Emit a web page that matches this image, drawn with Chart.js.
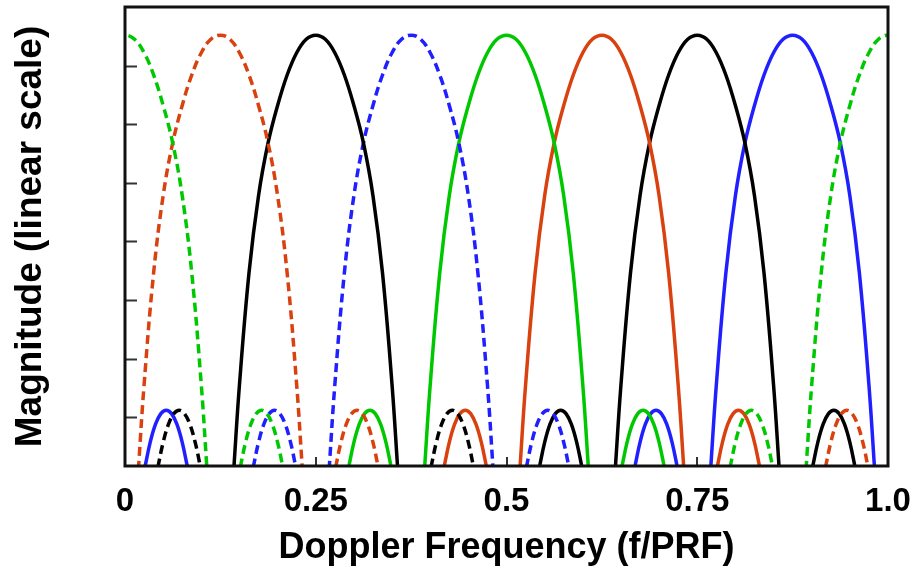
<!DOCTYPE html>
<html>
<head>
<meta charset="utf-8">
<script src="https://cdn.jsdelivr.net/npm/chart.js"></script>
<style>
  html, body { margin: 0; padding: 0; background: #fff; }
  #wrap { width: 912px; height: 569px; }
</style>
</head>
<body>
<div id="wrap"><canvas id="chart"></canvas></div>
<script>
// 8-filter Doppler bank over one PRF interval
const filterCentres = [0, 0.125, 0.25, 0.375, 0.5, 0.625, 0.75, 0.875];
const filterColours = ['#00c800', '#d9410f', '#000000', '#1f1fff', '#00c800', '#d9410f', '#000000', '#1f1fff'];
const mainDashed = [true, true, false, true, false, false, false, false];
const sideDashed = [true, true, true, true, false, false, false, false];

// main lobe: offset from the filter centre (f/PRF) and magnitude
const lobeOffsets = [-0.1075, -0.1, -0.0875, -0.075, -0.0625, -0.05, -0.0375, -0.025, -0.0125, 0,
                     0.0125, 0.025, 0.0375, 0.05, 0.0625, 0.075, 0.0875, 0.1, 0.1075];
const lobeMagnitudes = [0.1, 1.55, 3.46, 4.78, 5.68, 6.32, 6.84, 7.22, 7.45, 7.52,
                        7.45, 7.22, 6.84, 6.32, 5.68, 4.78, 3.46, 1.55, 0.1];

// first sidelobes sit this far either side of each filter centre
const sidelobeShift = 0.179;
const sideOffsets = [-0.028, -0.021, -0.014, -0.007, 0, 0.007, 0.014, 0.021, 0.028];
const sideMagnitudes = [0.14, 0.57, 0.88, 1.06, 1.12, 1.06, 0.88, 0.57, 0.14];

const xTickValues = [0, 0.25, 0.5, 0.75, 1];
const xTickLabels = ['0', '0.25', '0.5', '0.75', '1.0'];
const yTickValues = [1, 2, 3, 4, 5, 6, 7];

const dash = [9, 5];

const datasets = [];
filterCentres.forEach((c, i) => {
  const base = {
    borderColor: filterColours[i],
    borderWidth: 3.5,
    pointRadius: 0,
    fill: false,
    tension: 0.4
  };
  // the filter at 0 wraps round to 1.0
  const copies = c === 0 ? [0, 1] : [c];
  copies.forEach(cc => {
    datasets.push(Object.assign({}, base, {
      borderDash: mainDashed[i] ? dash : [],
      data: lobeOffsets.map((o, k) => ({ x: cc + o, y: lobeMagnitudes[k] }))
    }));
  });
  [-sidelobeShift, sidelobeShift].forEach(s => {
    let sc = c + s;
    sc = sc - Math.floor(sc);
    datasets.push(Object.assign({}, base, {
      borderDash: sideDashed[i] ? dash : [],
      data: sideOffsets.map((o, k) => ({ x: sc + o, y: sideMagnitudes[k] }))
    }));
  });
});

// box around the plot plus inward tick marks
const frame = {
  id: 'frame',
  afterDatasetsDraw(chart) {
    const { ctx, chartArea: a, scales: { x, y } } = chart;
    ctx.save();
    ctx.strokeStyle = '#333';
    ctx.lineWidth = 2;
    ctx.beginPath();
    y.ticks.forEach(t => {
      const py = Math.round(y.getPixelForValue(t.value)) + 0.5;
      ctx.moveTo(a.left, py);
      ctx.lineTo(a.left + 12, py);
    });
    x.ticks.forEach(t => {
      const px = Math.round(x.getPixelForValue(t.value));
      ctx.moveTo(px, a.bottom);
      ctx.lineTo(px, a.bottom - 9);
    });
    ctx.stroke();
    ctx.strokeStyle = '#111';
    ctx.lineWidth = 3;
    ctx.strokeRect(a.left, a.top, a.width, a.height);
    ctx.restore();
  }
};

new Chart(document.getElementById('chart'), {
  type: 'line',
  data: { datasets },
  plugins: [frame],
  options: {
    responsive: true,
    maintainAspectRatio: false,
    animation: false,
    devicePixelRatio: 1,
    layout: { padding: { top: 7, right: 0, left: 0, bottom: 0 } },
    plugins: { legend: { display: false }, tooltip: { enabled: false } },
    scales: {
      x: {
        type: 'linear',
        min: 0,
        max: 1,
        grid: { display: false, drawTicks: false },
        border: { display: false },
        afterBuildTicks: s => { s.ticks = xTickValues.map(v => ({ value: v })); },
        afterFit: s => {
          s.height = 103;
          s.paddingLeft = 0;
          s.paddingRight = 24;
        },
        ticks: {
          padding: 19,
          color: '#000',
          font: { family: 'Liberation Sans', size: 33, weight: 'bold', lineHeight: 1 },
          callback: (v) => xTickLabels[xTickValues.indexOf(v)]
        },
        title: {
          display: true,
          text: 'Doppler Frequency (f/PRF)',
          color: '#000',
          font: { family: 'Liberation Sans', size: 36, weight: 'bold', lineHeight: 1 },
          padding: { top: 0, bottom: 3 }
        }
      },
      y: {
        type: 'linear',
        min: 0.167,
        max: 8,
        grid: { display: false, drawTicks: false },
        border: { display: false },
        afterBuildTicks: s => { s.ticks = yTickValues.map(v => ({ value: v })); },
        ticks: { display: false },
        title: {
          display: true,
          text: 'Magnitude (linear scale)',
          color: '#000',
          font: { family: 'Liberation Sans', size: 37, weight: 'bold', lineHeight: 1 },
          padding: { top: 12, bottom: 76 }
        }
      }
    }
  }
});
</script>
</body>
</html>
